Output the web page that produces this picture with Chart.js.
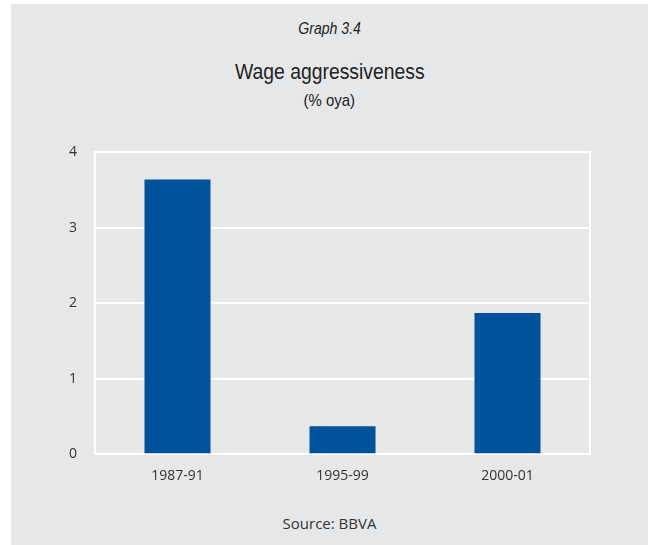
<!DOCTYPE html>
<html>
<head>
<meta charset="utf-8">
<script src="https://cdn.jsdelivr.net/npm/chart.js@4/dist/chart.umd.min.js"></script>
<style>
  html, body { margin: 0; padding: 0; background: #fff; }
  #page { position: absolute; left: 11px; top: 4px; width: 637px; height: 541px; background: #e6e7e9; }
  .txt { position: absolute; left: 11px; width: 637px; text-align: center; color: #222; }
  .txt span { display: inline-block; transform: scaleX(0.88); }
  #graphNo { top: 20px; font: italic 16px "Liberation Sans", sans-serif; }
  #title { top: 59px; font: 22px "Liberation Sans", sans-serif; }
  #subtitle { top: 91px; font: 17px "Liberation Sans", sans-serif; }
  #source { top: 513px; font: 15px "Open Sans", sans-serif; color: #333; }
  #source span { transform: none; }
  #wrap { position: absolute; left: 0; top: 126px; width: 648px; height: 363px; }
</style>
</head>
<body>
<div id="page"></div>
<div class="txt" id="graphNo"><span>Graph 3.4</span></div>
<div class="txt" id="title"><span>Wage aggressiveness</span></div>
<div class="txt" id="subtitle"><span>(% oya)</span></div>
<div id="wrap"><canvas id="chart"></canvas></div>
<div class="txt" id="source"><span>Source: BBVA</span></div>
<script>
const categories = ["1987-91", "1995-99", "2000-01"];
const wageValues = [3.64, 0.37, 1.87];
const yTicks = [0, 1, 2, 3, 4];

document.addEventListener('DOMContentLoaded', () => {
    const ctx = document.getElementById("chart").getContext("2d");
    const tickFont = { family: "'Open Sans', sans-serif", size: 14 };

    new Chart(ctx, {
        type: "bar",
        data: {
            labels: categories,
            datasets: [{
                data: wageValues,
                backgroundColor: "#00529b",
                categoryPercentage: 1,
                barPercentage: 0.4,
                borderWidth: 0,
            }],
        },
        options: {
            responsive: true,
            maintainAspectRatio: false,
            animation: false,
            layout: { padding: { left: 51, right: 58, top: 10, bottom: 0 } },
            plugins: {
                legend: { display: false },
                tooltip: { enabled: false },
            },
            scales: {
                x: {
                    grid: { display: false },
                    border: { display: true, color: "#ffffff", width: 2 },
                    ticks: { color: "#333", font: tickFont, padding: 5 },
                },
                y: {
                    min: 0,
                    max: 4,
                    afterBuildTicks: (axis) => { axis.ticks = yTicks.map(v => ({ value: v })); },
                    grid: { color: "#ffffff", lineWidth: 2, drawTicks: false },
                    border: { display: true, color: "#ffffff", width: 2 },
                    ticks: { color: "#333", font: tickFont, padding: 18 },
                },
                y2: {
                    position: "right",
                    min: 0,
                    max: 4,
                    grid: { display: false, drawTicks: false },
                    border: { display: true, color: "#ffffff", width: 2 },
                    ticks: { display: false },
                },
            },
        },
    });
});
</script>
</body>
</html>
